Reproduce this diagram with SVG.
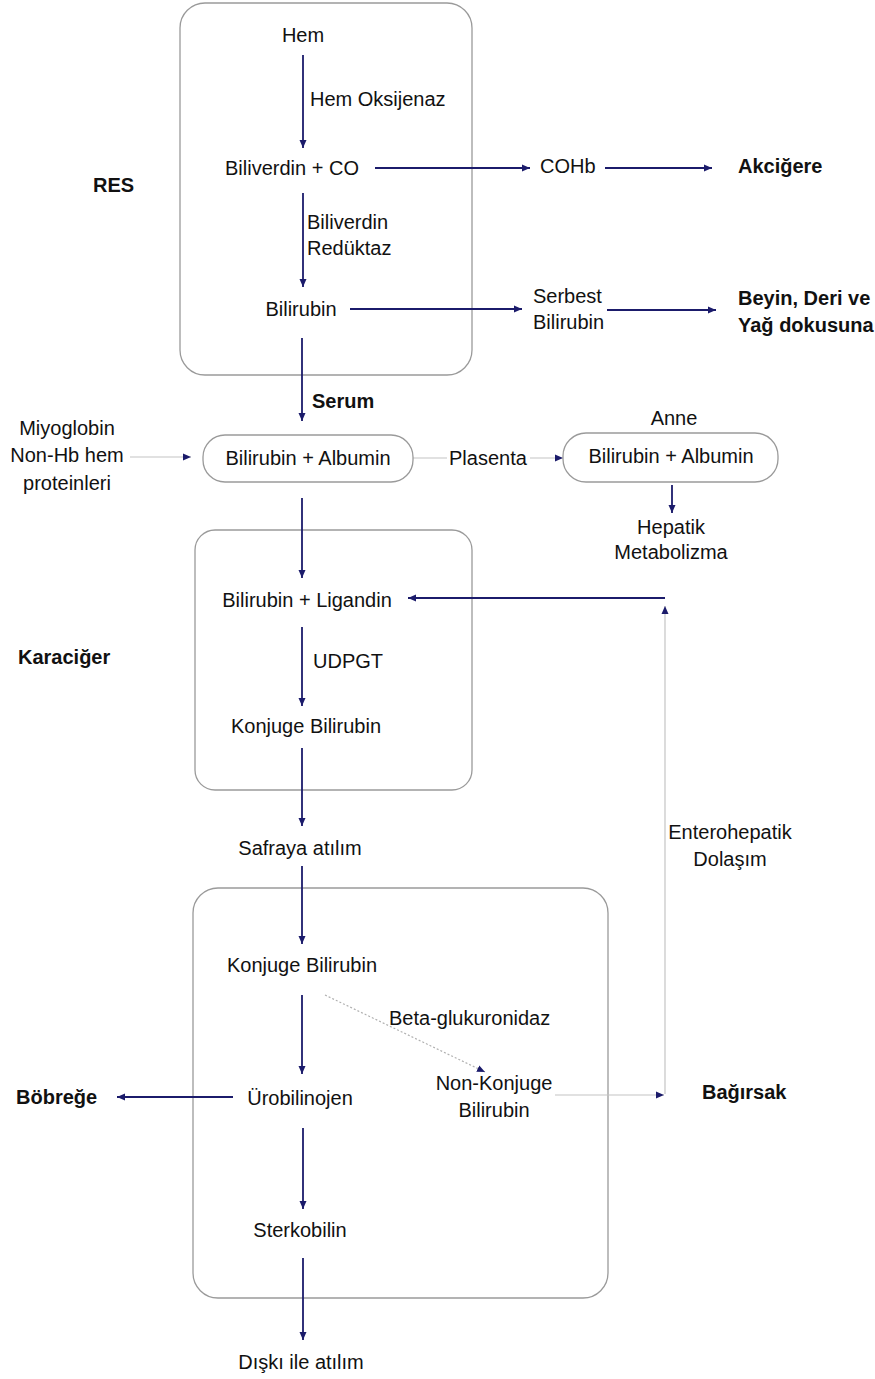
<svg xmlns="http://www.w3.org/2000/svg" width="875" height="1379" viewBox="0 0 875 1379">
<defs>
<style>
text{font-family:"Liberation Sans",Arial,sans-serif;font-size:20px;fill:#111}
.b{font-weight:bold}
.m{text-anchor:middle}
.box{fill:none;stroke:#9a9a9a;stroke-width:1.3}
.a{stroke:#1b1b6b;stroke-width:1.8;fill:none;marker-end:url(#ah)}
.g{stroke:#c4c4c4;stroke-width:1.2;fill:none}
.ga{stroke:#c4c4c4;stroke-width:1.2;fill:none;marker-end:url(#ah)}
.gd{stroke:#b0b0b0;stroke-width:1.2;fill:none;stroke-dasharray:2 2;marker-end:url(#ah)}
</style>
<marker id="ah" markerUnits="userSpaceOnUse" markerWidth="10" markerHeight="8" refX="8" refY="4" orient="auto">
<path d="M0,0.5 L8,4 L0,7.5 z" fill="#1b1b6b"/>
</marker>
</defs>
<rect width="875" height="1379" fill="#fff"/>
<g id="res-box"><rect class="box" x="180" y="3" width="292" height="372" rx="25"/></g>
<g id="karaciger-box"><rect class="box" x="195" y="530" width="277" height="260" rx="20"/></g>
<g id="bagirsak-box"><rect class="box" x="193" y="888" width="415" height="410" rx="25"/></g>
<g id="connectors">
<line class="a" x1="303" y1="55" x2="303" y2="148"/>
<line class="a" x1="375" y1="168" x2="530" y2="168"/>
<line class="a" x1="605" y1="168" x2="712" y2="168"/>
<line class="a" x1="303" y1="193" x2="303" y2="287"/>
<line class="a" x1="350" y1="309" x2="522" y2="309"/>
<line class="a" x1="607" y1="310" x2="716" y2="310"/>
<line class="a" x1="302" y1="338" x2="302" y2="421"/>
<line class="a" x1="672" y1="485" x2="672" y2="513"/>
<line class="a" x1="302" y1="498" x2="302" y2="578"/>
<line class="a" x1="665" y1="598" x2="408" y2="598"/>
<line class="a" x1="302" y1="627" x2="302" y2="706"/>
<line class="a" x1="302" y1="748" x2="302" y2="826"/>
<line class="a" x1="302" y1="866" x2="302" y2="944"/>
<line class="a" x1="302" y1="995" x2="302" y2="1074"/>
<line class="a" x1="233" y1="1097" x2="117" y2="1097"/>
<line class="a" x1="303" y1="1128" x2="303" y2="1209"/>
<line class="a" x1="303" y1="1258" x2="303" y2="1340"/>
<line class="ga" x1="130" y1="457" x2="191" y2="457"/>
<line class="g" x1="413" y1="458" x2="447" y2="458"/>
<line class="ga" x1="530" y1="458" x2="563" y2="458"/>
<line class="gd" x1="325" y1="995" x2="485" y2="1072"/>
<line class="ga" x1="555" y1="1095" x2="664" y2="1095"/>
<line class="ga" x1="665" y1="1094" x2="665" y2="606"/>
</g>
<g id="n-hem"><text class="m" x="303" y="42">Hem</text></g>
<g id="l-hemoks"><text x="310" y="106">Hem Oksijenaz</text></g>
<g id="n-biliverdin"><text class="m" x="292" y="175">Biliverdin + CO</text></g>
<g id="n-cohb"><text x="540" y="173">COHb</text></g>
<g id="n-akcigere"><text class="b" x="738" y="173">Akciğere</text></g>
<g id="l-res"><text class="b" x="93" y="192">RES</text></g>
<g id="l-biliverdinred"><text x="307" y="229">Biliverdin</text><text x="307" y="255">Redüktaz</text></g>
<g id="n-bilirubin"><text class="m" x="301" y="316">Bilirubin</text></g>
<g id="n-serbest"><text x="533" y="303">Serbest</text><text x="533" y="329">Bilirubin</text></g>
<g id="n-beyin"><text class="b" x="738" y="305">Beyin, Deri ve</text><text class="b" x="738" y="332">Yağ dokusuna</text></g>
<g id="l-serum"><text class="b" x="312" y="408">Serum</text></g>
<g id="n-miyoglobin"><text class="m" x="67" y="435">Miyoglobin</text><text class="m" x="67" y="462">Non-Hb hem</text><text class="m" x="67" y="490">proteinleri</text></g>
<g id="n-albumin1"><rect class="box" x="203" y="435" width="210" height="47" rx="22"/><text class="m" x="308" y="465">Bilirubin + Albumin</text></g>
<g id="l-plasenta"><text x="449" y="465">Plasenta</text></g>
<g id="n-albumin2"><text class="m" x="674" y="425">Anne</text><rect class="box" x="563" y="433" width="215" height="49" rx="23"/><text class="m" x="671" y="463">Bilirubin + Albumin</text></g>
<g id="n-hepatik"><text class="m" x="671" y="534">Hepatik</text><text class="m" x="671" y="559">Metabolizma</text></g>
<g id="n-ligandin"><text class="m" x="307" y="607">Bilirubin + Ligandin</text></g>
<g id="l-karaciger"><text class="b" x="18" y="664">Karaciğer</text></g>
<g id="l-udpgt"><text x="313" y="668">UDPGT</text></g>
<g id="n-konjuge1"><text class="m" x="306" y="733">Konjuge Bilirubin</text></g>
<g id="n-safraya"><text class="m" x="300" y="855">Safraya atılım</text></g>
<g id="l-entero"><text class="m" x="730" y="839">Enterohepatik</text><text class="m" x="730" y="866">Dolaşım</text></g>
<g id="n-konjuge2"><text class="m" x="302" y="972">Konjuge Bilirubin</text></g>
<g id="l-beta"><text x="389" y="1025">Beta-glukuronidaz</text></g>
<g id="n-nonkonjuge"><text class="m" x="494" y="1090">Non-Konjuge</text><text class="m" x="494" y="1117">Bilirubin</text></g>
<g id="l-bagirsak"><text class="b" x="702" y="1099">Bağırsak</text></g>
<g id="n-urobilinojen"><text class="m" x="300" y="1105">Ürobilinojen</text></g>
<g id="n-bobrege"><text class="b" x="16" y="1104">Böbreğe</text></g>
<g id="n-sterkobilin"><text class="m" x="300" y="1237">Sterkobilin</text></g>
<g id="n-diski"><text class="m" x="301" y="1369">Dışkı ile atılım</text></g>
</svg>
